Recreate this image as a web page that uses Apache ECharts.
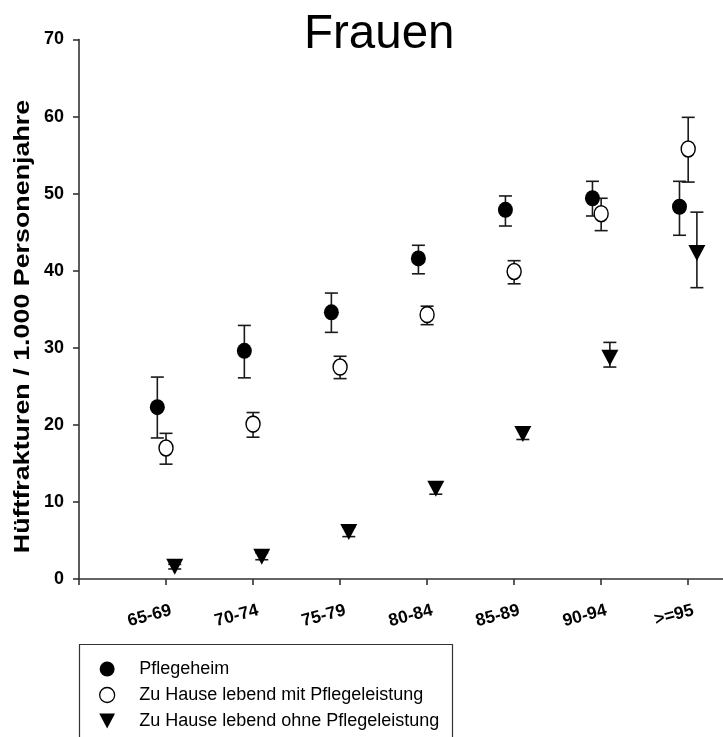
<!DOCTYPE html>
<html>
<head>
<meta charset="utf-8">
<script src="https://cdn.jsdelivr.net/npm/echarts@6/dist/echarts.min.js"></script>
<style>
  html, body { margin: 0; padding: 0; background: #fff; }
  #chart { width: 723px; height: 737px; }
</style>
</head>
<body>
<div id="chart"></div>
<script>
// Age groups on the x axis
const ageGroups = ['65-69', '70-74', '75-79', '80-84', '85-89', '90-94', '>=95'];
const yTicks = [0, 10, 20, 30, 40, 50, 60, 70];

// Hip fractures per 1,000 person-years, with lower / upper error bounds
const heimRate  = [22.3, 29.6, 34.6, 41.6, 47.9, 49.4, 48.3];
const heimLow   = [18.3, 26.1, 32.0, 39.6, 45.8, 47.1, 44.6];
const heimHigh  = [26.2, 32.9, 37.1, 43.3, 49.7, 51.6, 51.6];

const mitRate   = [17.0, 20.1, 27.5, 34.3, 39.9, 47.4, 55.8];
const mitLow    = [14.9, 18.4, 26.0, 33.0, 38.3, 45.2, 51.5];
const mitHigh   = [18.9, 21.6, 28.9, 35.4, 41.3, 49.4, 59.9];

const ohneRate  = [1.6, 2.9, 6.1, 11.7, 18.8, 28.7, 42.3];
const ohneLow   = [1.3, 2.5, 5.5, 11.0, 18.1, 27.5, 37.8];
const ohneHigh  = [1.9, 3.4, 6.7, 12.5, 19.6, 30.7, 47.6];

const seriesNames = [
  'Pflegeheim',
  'Zu Hause lebend mit Pflegeleistung',
  'Zu Hause lebend ohne Pflegeleistung'
];
const yTitle = 'Hüftfrakturen / 1.000 Personenjahre';

const FONT = '"Liberation Sans", Arial, Helvetica, sans-serif';
const INK = '#000';
const TRIANGLE_DOWN = 'path://M0,0 L20,0 L10,19 Z';

// Each group is nudged sideways around its age-group position
const shifts = [-0.1, 0, 0.1];
// Rotated tick labels end slightly right of their tick
const labelNudge = 0.06;

const tickPositions = [0].concat(ageGroups.map((_, i) => i + 1));
const labelPositions = ageGroups.map((_, i) => i + 1 + labelNudge);

function points(rate, shift) {
  return rate.map((v, i) => [i + 1 + shift, v]);
}
function bars(low, high, shift) {
  return low.map((lo, i) => [i + 1 + shift, lo, high[i]]);
}

function errorBarSeries(data) {
  return {
    type: 'custom',
    silent: true,
    z: 1,
    data: data,
    encode: { x: 0, y: [1, 2] },
    renderItem: function (params, api) {
      const x = api.value(0);
      const lo = api.coord([x, api.value(1)]);
      const hi = api.coord([x, api.value(2)]);
      const cap = 6.5;
      const style = { stroke: '#1a1a1a', lineWidth: 1.6 };
      return {
        type: 'group',
        children: [
          { type: 'line', shape: { x1: lo[0], y1: lo[1], x2: hi[0], y2: hi[1] }, style: style },
          { type: 'line', shape: { x1: hi[0] - cap, y1: hi[1], x2: hi[0] + cap, y2: hi[1] }, style: style },
          { type: 'line', shape: { x1: lo[0] - cap, y1: lo[1], x2: lo[0] + cap, y2: lo[1] }, style: style }
        ]
      };
    }
  };
}

const chart = echarts.init(document.getElementById('chart'), null, { renderer: 'canvas' });

chart.setOption({
  animation: false,
  backgroundColor: '#fff',
  textStyle: { fontFamily: FONT },
  title: {
    text: 'Frauen',
    left: 299,
    top: 6,
    textStyle: { fontFamily: FONT, fontSize: 47.5, fontWeight: 'normal', color: INK }
  },
  grid: {
    left: 79,
    right: 0,
    top: 39.5,
    bottom: 158,
    containLabel: false,
    outerBoundsMode: 'none'
  },
  xAxis: {
    type: 'value',
    min: 0,
    max: 7.4,
    interval: 1,
    splitLine: { show: false },
    axisLine: { show: true, onZero: false, lineStyle: { color: '#333', width: 1.6 } },
    axisTick: {
      show: true, inside: false, length: 6,
      customValues: tickPositions,
      lineStyle: { color: '#333', width: 1.6 }
    },
    axisLabel: {
      customValues: labelPositions,
      rotate: 15,
      margin: 31,
      fontFamily: FONT,
      fontSize: 17.5,
      fontWeight: 'bold',
      color: INK,
      formatter: function (v) { return ageGroups[Math.round(v) - 1] || ''; }
    }
  },
  yAxis: {
    type: 'value',
    min: yTicks[0],
    max: yTicks[yTicks.length - 1],
    interval: 10,
    splitLine: { show: false },
    axisLine: { show: true, lineStyle: { color: '#333', width: 1.6 } },
    axisTick: { show: true, inside: false, length: 6, lineStyle: { color: '#333', width: 1.6 } },
    axisLabel: {
      margin: 15,
      fontFamily: FONT,
      fontSize: 18,
      fontWeight: 'bold',
      color: INK
    }
  },
  legend: {
    orient: 'vertical',
    left: 94,
    top: 655,
    height: 120,
    itemWidth: 54,
    itemHeight: 15,
    itemGap: 8,
    selectedMode: false,
    textStyle: { fontFamily: FONT, fontSize: 18, color: INK },
    data: [
      { name: seriesNames[0], icon: 'circle' },
      { name: seriesNames[1], icon: 'circle', itemStyle: { color: '#fff', borderColor: INK, borderWidth: 1.3 } },
      { name: seriesNames[2], icon: TRIANGLE_DOWN }
    ]
  },
  graphic: [
    {
      // vertical axis title, stretched slightly along its length
      type: 'text',
      silent: true,
      x: 23,
      y: 326.5,
      rotation: Math.PI / 2,
      scaleX: 1.22,
      style: {
        text: yTitle,
        font: 'bold 22px ' + FONT,
        fill: INK,
        align: 'center',
        verticalAlign: 'middle'
      }
    },
    {
      type: 'rect',
      silent: true,
      shape: { x: 79.5, y: 644.5, width: 373, height: 120 },
      style: { fill: 'none', stroke: '#333', lineWidth: 1.2 },
      z: 0
    }
  ],
  series: [
    errorBarSeries(bars(heimLow, heimHigh, shifts[0])),
    errorBarSeries(bars(mitLow, mitHigh, shifts[1])),
    errorBarSeries(bars(ohneLow, ohneHigh, shifts[2])),
    {
      name: seriesNames[0],
      type: 'scatter',
      z: 3,
      symbol: 'circle',
      symbolSize: [15, 16],
      itemStyle: { color: INK, opacity: 1 },
      data: points(heimRate, shifts[0])
    },
    {
      name: seriesNames[1],
      type: 'scatter',
      z: 3,
      symbol: 'circle',
      symbolSize: [14, 16],
      itemStyle: { color: '#fff', borderColor: INK, borderWidth: 1.5, opacity: 1 },
      data: points(mitRate, shifts[1])
    },
    {
      name: seriesNames[2],
      type: 'scatter',
      z: 3,
      symbol: TRIANGLE_DOWN,
      symbolSize: [17, 16],
      itemStyle: { color: INK, opacity: 1 },
      data: points(ohneRate, shifts[2])
    }
  ]
});
</script>
</body>
</html>
